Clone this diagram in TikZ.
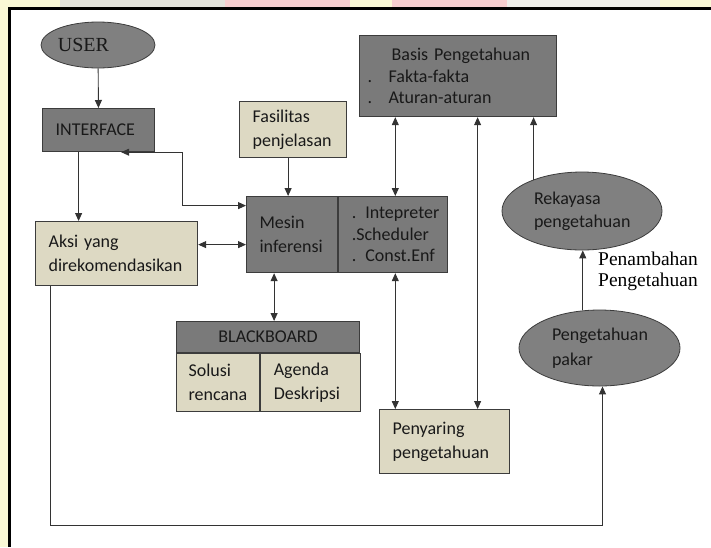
\documentclass[tikz,border=0pt]{standalone}
\usepackage{fontspec}
\setmainfont{Liberation Serif}
\newfontfamily\calibri{Carlito}
\usepackage{tikz}
\usetikzlibrary{shapes.geometric,arrows.meta}
\definecolor{abutua}{RGB}{122,122,122}
\definecolor{abuelips}{RGB}{128,128,128}
\definecolor{krem}{RGB}{221,217,195}
\definecolor{garis}{RGB}{60,60,60}
\definecolor{kuning}{RGB}{250,248,214}
\definecolor{merahmuda}{RGB}{246,206,208}
\definecolor{abumuda}{RGB}{226,226,220}
\hyphenpenalty=10000
\exhyphenpenalty=10000

\begin{document}
\begin{tikzpicture}[x=1pt,y=-1pt,
	kotak/.style={rectangle,draw=garis,line width=1.2pt,anchor=north west,
		inner xsep=13pt,inner ysep=0pt,align=left,text=black!90,
		font=\calibri\fontsize{18}{24}\selectfont},
	gelap/.style={kotak,fill=abutua},
	terang/.style={kotak,fill=krem},
	elips/.style={ellipse,draw=garis,line width=0.8pt,fill=abuelips,inner sep=0pt,text=black!90},
	panah/.style={draw=black!80,line width=0.9pt,-{Triangle[length=8pt,width=7pt]}},
	panah2/.style={draw=black!80,line width=0.9pt,{Triangle[length=8pt,width=7pt]}-{Triangle[length=8pt,width=7pt]}}]
	% latar
	\useasboundingbox (0,0) rectangle (711,547);
	\fill[kuning] (0,0) rectangle (711,547);
	\fill[abumuda] (60,0) rectangle (225,7);
	\fill[merahmuda] (225,0) rectangle (507,7);
	\fill[kuning] (350,0) rectangle (392,7);
	\fill[abumuda!60] (507,0) rectangle (660,7);
	\fill[white] (11,10) rectangle (711,547);
	\fill (8,7) rectangle (711,10);
	\fill (8,7) rectangle (11,547);
	
	% kotak-kotak
	\node[elips,minimum width=114pt,minimum height=46pt,font=\fontsize{20}{24}\selectfont] (user) at (98,45) {\makebox[0pt]{USER\hspace{29pt}}};
	\node[gelap,minimum width=112pt,minimum height=43pt,text width=86pt] (interface) at (42,108) {INTERFACE};
	\node[terang,minimum width=107pt,minimum height=56pt,text width=81pt] (fasilitas) at (239,101) {Fasilitas\\penjelasan};
	\node[gelap,minimum width=197pt,minimum height=81pt,inner xsep=8pt,text width=181pt,font=\calibri\fontsize{18}{21.5}\selectfont] (basis) at (359,35) {\hspace*{24pt}Basis Pengetahuan\\\makebox[21pt][l]{.}Fakta-fakta\\\makebox[21pt][l]{.}Aturan-aturan};
	\node[gelap,minimum width=91pt,minimum height=76pt,text width=65pt] (mesin) at (246,196) {Mesin\\inferensi};
	\node[gelap,minimum width=109pt,minimum height=76pt,text width=83pt,font=\calibri\fontsize{18}{21.5}\selectfont] (kontrol) at (mesin.north east) {\mbox{. Intepreter}\\\mbox{.Scheduler}\\\mbox{. Const.Enf}};
	\node[terang,minimum width=162pt,minimum height=64pt,text width=136pt] (aksi) at (35,221) {Aksi yang\\direkomendasikan};
	\node[gelap,minimum width=183pt,minimum height=31pt,text width=157pt,align=center] (bbjudul) at (176,321) {BLACKBOARD};
	\node[terang,minimum width=83pt,minimum height=58pt,inner xsep=12pt,text width=59pt] (bbkiri) at (bbjudul.south west) {Solusi\\rencana};
	\node[terang,minimum width=100pt,minimum height=58pt,text width=74pt] (bbkanan) at (bbkiri.north east) {Agenda\\Deskripsi};
	\node[terang,minimum width=130pt,minimum height=64pt,text width=104pt] (penyaring) at (379,409) {Penyaring\\pengetahuan};
	\node[elips,minimum width=160pt,minimum height=78pt,text width=96pt,align=left,font=\calibri\fontsize{18}{23}\selectfont] (rekayasa) at (582,211) {Rekayasa\\pengetahuan};
	\node[elips,minimum width=161pt,minimum height=76pt,text width=95pt,align=left,font=\calibri\fontsize{18}{25}\selectfont] (pakar) at (599.5,348) {Pengetahuan\\pakar};
	\node[anchor=west,align=left,inner sep=0pt,font=\fontsize{19.5}{21}\selectfont] (tambah) at (598,271) {Penambahan\\Pengetahuan};
	
	% panah
	\coordinate (belok) at (182,0);
	\coordinate (dasar) at (0,525);
	\draw[panah] (user) -- (interface);
	\draw[panah] ([xshift=-20pt]interface.south) -- ([xshift=-20pt]interface.south |- aksi.north);
	\draw[panah2] ([yshift=29pt]mesin.west) -| (belok |- interface.south) -- ([xshift=-34pt]interface.south east);
	\draw[panah] ([xshift=-5pt]fasilitas.south) -- ([xshift=-5pt]fasilitas.south |- mesin.north);
	\draw[panah2] ([yshift=9pt]aksi.east) -- ([yshift=9pt]aksi.east -| mesin.west);
	\draw[panah2] ([xshift=2pt]kontrol.north) -- ([xshift=2pt]kontrol.north |- basis.south);
	\draw[panah2] ([xshift=2pt]kontrol.south) -- ([xshift=2pt]kontrol.south |- penyaring.north);
	\draw[panah2] ([xshift=-18pt]mesin.south) -- ([xshift=-18pt]mesin.south |- bbjudul.north);
	\draw[panah2] ([xshift=33pt]penyaring.north) -- ([xshift=33pt]penyaring.north |- basis.south);
	\draw[panah] (rekayasa.147) -- (rekayasa.147 |- basis.south);
	\draw[panah] (pakar.114) -- (pakar.114 |- rekayasa.south);
	\draw[panah] ([xshift=-66pt]aksi.south) |- ([xshift=3pt]pakar.south |- dasar) -- ([xshift=3pt]pakar.south);
\end{tikzpicture}
\end{document}
